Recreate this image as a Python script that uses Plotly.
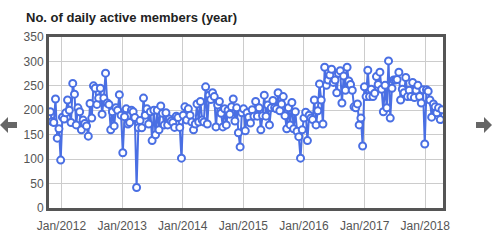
import pandas as pd
import plotly.graph_objects as go

title_text = "No. of daily active members (year)"

members = [
    # late 2011 - 2012
    197, 177, 175, 223, 143, 162, 98, 186, 182, 195, 221, 200, 175, 255, 233,
    170, 205, 197, 160, 180, 173, 168, 147, 214, 184, 250, 245, 212, 225, 245,
    192, 225, 276, 215, 212, 160, 197, 168, 205, 200, 232, 190, 113,
    # 2013
    187, 203, 172, 175, 200, 197, 185, 42, 164, 179, 164, 225, 190, 203, 172,
    197, 138, 200, 150, 200, 160, 209, 194, 170, 195, 170, 182, 178, 175, 165,
    188, 185,
    # 2014
    165, 102, 190, 207, 180, 203, 190, 176, 160, 172, 213, 176, 218, 180, 176,
    248, 172, 231, 222, 236, 228, 166, 211, 218, 194, 166, 203, 170, 200, 192,
    207, 223, 178, 205, 154, 125,
    # 2015
    195, 203, 158, 195, 186, 174, 201, 188, 218, 188, 205, 160, 189, 231, 188,
    211, 170, 205, 220, 205, 203, 236, 199, 213, 228, 189, 162, 205, 170, 216,
    162, 197, 157, 146, 102, 160, 184, 196,
    # 2016
    138, 190, 184, 181, 221, 170, 199, 254, 221, 172, 288, 251, 262, 272, 284,
    257, 262, 236, 276, 281, 215, 270, 241, 288, 260, 253, 241, 207, 205, 213,
    170, 184, 127, 248, 228, 282, 228, 243,
    # 2017 - 2018
    228, 235, 269, 253, 278, 243, 197, 251, 205, 301, 184, 245, 262, 262, 263,
    278, 221, 243, 236, 267, 228, 241, 228, 257, 226, 241, 251, 228, 215, 242,
    131, 242, 239, 221, 186, 213, 207, 195, 205, 181, 201,
]

start_date = "2011-10-26"
end_date = "2018-04-12"
dates = pd.date_range(start_date, end_date, periods=len(members))

tick_years = [2012, 2013, 2014, 2015, 2016, 2017, 2018]
tick_vals = [f"{y}-01-01" for y in tick_years]
tick_text = [f"Jan/{y}" for y in tick_years]
y_ticks = [0, 50, 100, 150, 200, 250, 300, 350]

blue = "#4a6fe3"

fig = go.Figure()
fig.add_trace(go.Scatter(
    x=dates, y=members, mode="lines+markers",
    line=dict(color=blue, width=2),
    marker=dict(symbol="circle", size=7, color="white",
                line=dict(color=blue, width=2)),
    hoverinfo="x+y",
))

W, H = 494, 246
L, R, T, B = 49, 51, 37, 38
pw = W - L - R
ph = H - T - B

def px(x):
    return (x - L) / pw

def py(y):
    return (H - B - y) / ph

arrow_color = "#666666"
left_path = (f"M {px(0)},{py(125)} L {px(8)},{py(117)} L {px(8)},{py(122)} "
             f"L {px(17)},{py(122)} L {px(17)},{py(128)} L {px(8)},{py(128)} "
             f"L {px(8)},{py(133)} Z")
right_path = (f"M {px(492)},{py(125)} L {px(484)},{py(117)} L {px(484)},{py(122)} "
              f"L {px(476)},{py(122)} L {px(476)},{py(128)} L {px(484)},{py(128)} "
              f"L {px(484)},{py(133)} Z")
shapes = [
    dict(type="path", path=left_path, xref="paper", yref="paper",
         fillcolor=arrow_color, line=dict(width=0)),
    dict(type="path", path=right_path, xref="paper", yref="paper",
         fillcolor=arrow_color, line=dict(width=0)),
]

fig.update_layout(
    width=W, height=H,
    margin=dict(l=L, r=R, t=T, b=B),
    paper_bgcolor="white", plot_bgcolor="white",
    showlegend=False,
    font=dict(family="Arial, Liberation Sans, sans-serif", size=12, color="#555555"),
    title=dict(text=f"<b>{title_text}</b>", x=26 / W, xanchor="left",
               y=1 - 17 / H, yanchor="middle",
               font=dict(size=13, color="#222222")),
    shapes=shapes,
)
fig.update_xaxes(
    type="date", range=["2011-10-18", "2018-04-18"],
    tickvals=tick_vals, ticktext=tick_text,
    showgrid=True, gridcolor="#cccccc", gridwidth=1,
    showline=True, linecolor="#555555", linewidth=3, mirror=True,
    ticks="", zeroline=False, ticklabelstandoff=5,
)
fig.update_yaxes(
    range=[0, 350], tickvals=y_ticks,
    showgrid=True, gridcolor="#cccccc", gridwidth=1,
    showline=True, linecolor="#555555", linewidth=3, mirror=True,
    ticks="", zeroline=False,
)

fig.write_html("out.html")
